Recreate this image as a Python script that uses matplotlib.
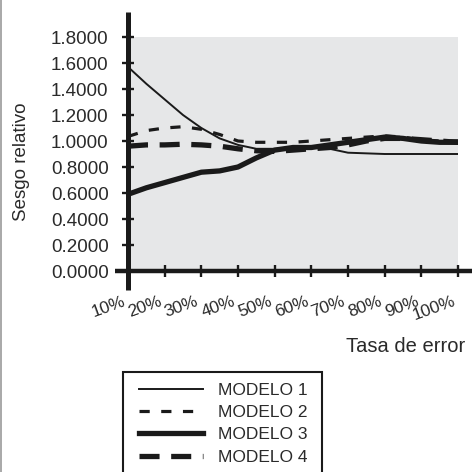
import matplotlib
matplotlib.use("Agg")
import matplotlib.pyplot as plt
import matplotlib.transforms as mtransforms
from matplotlib.patches import Rectangle
from matplotlib.lines import Line2D

# error rate (%) and relative bias
tasa = [10, 15, 20, 25, 30, 35, 40, 45, 50, 55, 60, 65, 70, 75, 80, 85, 90, 95, 100]
modelo1 = [1.57, 1.44, 1.32, 1.20, 1.10, 1.02, 0.97, 0.94, 0.94, 0.95, 0.95, 0.94,
           0.91, 0.905, 0.90, 0.90, 0.90, 0.90, 0.90]
modelo2 = [1.035, 1.08, 1.10, 1.11, 1.09, 1.05, 1.00, 0.99, 0.99, 0.99, 1.00, 1.01,
           1.02, 1.03, 1.04, 1.03, 1.01, 1.00, 1.00]
modelo3 = [0.59, 0.64, 0.68, 0.72, 0.76, 0.77, 0.80, 0.87, 0.93, 0.95, 0.95, 0.97,
           0.99, 1.01, 1.03, 1.02, 1.00, 0.99, 0.99]
modelo4 = [0.96, 0.97, 0.97, 0.975, 0.97, 0.96, 0.94, 0.925, 0.92, 0.93, 0.94, 0.95,
           0.97, 1.00, 1.02, 1.02, 1.01, 1.00, 0.99]

x_ticks = [10, 20, 30, 40, 50, 60, 70, 80, 90, 100]
x_tick_labels = ["10%", "20%", "30%", "40%", "50%", "60%", "70%", "80%", "90%", "100%"]
y_ticks = [0.0, 0.2, 0.4, 0.6, 0.8, 1.0, 1.2, 1.4, 1.6, 1.8]
y_tick_labels = ["0.0000", "0.2000", "0.4000", "0.6000", "0.8000", "1.0000",
                 "1.2000", "1.4000", "1.6000", "1.8000"]
labels = ["MODELO 1", "MODELO 2", "MODELO 3", "MODELO 4"]

plt.rcParams['font.family'] = ['Liberation Sans', 'DejaVu Sans']
ink = '#1a1a1a'
txt = '#2a2a2a'

W = H = 472.0
fig = plt.figure(figsize=(4.72, 4.72), dpi=100)
ax = fig.add_axes([128 / W, 1 - 271 / H, 330 / W, 234 / H])
ax.set_facecolor('#e6e7e8')
for s in ax.spines.values():
    s.set_visible(False)
ax.set_xlim(10, 100)
ax.set_ylim(0, 1.8)

l1, = ax.plot(tasa, modelo1, color=ink, lw=1.4)
l2, = ax.plot(tasa, modelo2, color=ink, lw=2.3, linestyle=(0, (3.2, 3.6)))
l3, = ax.plot(tasa, modelo3, color=ink, lw=3.8)
l4, = ax.plot(tasa, modelo4, color=ink, lw=3.8, linestyle=(0, (3.8, 2.2)))

# axis lines running past the plot area
ax.plot([0, 0], [-0.081, 1.107], transform=ax.transAxes, clip_on=False,
        color=ink, lw=3.6, solid_capstyle='butt', zorder=5)
ax.plot([-0.039, 1.042], [0, 0], transform=ax.transAxes, clip_on=False,
        color=ink, lw=3.2, solid_capstyle='butt', zorder=5)

ax.set_yticks(y_ticks, y_tick_labels)
ax.set_xticks(x_ticks, [""] * len(x_ticks))
ax.tick_params(axis='both', direction='inout', length=8, width=1.7, color=ink)
ax.tick_params(axis='y', pad=10, labelsize=13.5, labelcolor=txt)
for t in ax.xaxis.get_major_ticks() + ax.yaxis.get_major_ticks():
    t.tick1line.set_zorder(6)

off = mtransforms.ScaledTranslation(-6 / 100, -23 / 100, fig.dpi_scale_trans)
for xv, lab in zip(x_ticks, x_tick_labels):
    ax.text(xv, 0, lab, transform=ax.get_xaxis_transform() + off,
            rotation=20, rotation_mode='anchor', ha='right', va='top',
            fontsize=12.5, color=txt)

fig.text(22 / W, 1 - 162 / H, "Sesgo relativo", rotation=90, ha='center',
         va='center', fontsize=13.5, color=txt)
fig.text(465 / W, 1 - 346 / H, "Tasa de error", ha='right', va='center',
         fontsize=14.5, color=txt)

fig.legend([l1, l2, l3, l4], labels, loc='upper left',
           bbox_to_anchor=(130 / W, 1 - 374 / H), frameon=False, borderpad=0,
           handlelength=3.7, handletextpad=0.86, labelspacing=0.41,
           fontsize=12.5, labelcolor=txt)
fig.add_artist(Rectangle((123 / W, -0.05), 199 / W, (1 - 372 / H) + 0.05,
                         transform=fig.transFigure, fill=False, lw=1.5,
                         edgecolor=ink, clip_on=False))
fig.add_artist(Line2D([0.8 / W, 0.8 / W], [0, 1], transform=fig.transFigure,
                      color='#999999', lw=1.2))

fig.savefig("out.png", dpi=100)
